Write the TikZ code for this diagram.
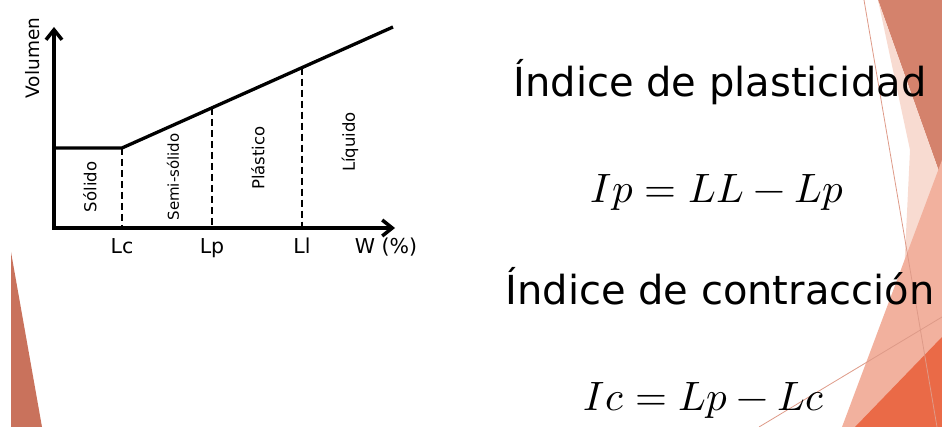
\documentclass[tikz,border=0pt]{standalone}
\usepackage{fontspec}
\usepackage{unicode-math}
\setmainfont{DejaVu Sans}
\setmathfont{Latin Modern Math}
\usetikzlibrary{arrows.meta}
\definecolor{facetdark}{HTML}{D4826C}
\definecolor{facetpink}{HTML}{F8DBD1}
\definecolor{facetsalmon}{HTML}{F2B19E}
\definecolor{facetorange}{HTML}{EA6A47}
\definecolor{facetleft}{HTML}{C9725C}
\definecolor{facetline}{HTML}{DE9A88}
\tikzset{
  axisline/.style={line width=3.5pt,line join=miter,
    {Straight Barb[length=10pt,width=16pt]}-{Straight Barb[length=10pt,width=16pt]}},
  curveline/.style={line width=3.3pt,line join=round},
  limitline/.style={line width=1.9pt,dash pattern=on 7pt off 4pt},
  ticklbl/.style={anchor=base,inner sep=0pt,font=\fontsize{20.5}{24}\selectfont},
  zonelbl/.style={rotate=90,inner sep=0pt,font=\fontsize{16.5}{20}\selectfont},
  titletxt/.style={anchor=base,inner sep=0pt,font=\fontsize{40}{48}\selectfont},
  formula/.style={anchor=base,inner sep=0pt,font=\fontsize{41}{49}\selectfont},
}

\begin{document}
\begin{tikzpicture}[x=1pt,y=-1pt]
  \useasboundingbox (0,0) rectangle (942,427);
  % Slide decoration, right edge
  \fill[facetdark] (878,0) -- (942,0) -- (942,180) -- cycle;
  \fill[facetpink] (878,0) -- (942,180) -- (942,190) -- (904,275) -- (910,150) -- cycle;
  \fill[facetsalmon] (942,160) -- (942,427) -- (842,427) -- cycle;
  \fill[facetorange] (942,337) -- (942,427) -- (855,427) -- cycle;
  \draw[facetline,line width=0.8pt] (864,0) -- (937,427);
  \draw[facetline,line width=0.8pt] (759,427) -- (942,317);
  % Slide decoration, left edge
  \fill[facetleft] (11,252) -- (42,427) -- (11,427) -- cycle;

  % Volume against water content
  \coordinate (O) at (54,228);
  \coordinate (ytip) at (54,27);
  \coordinate (xtip) at (395,228);
  \coordinate (s0) at (54,148);
  \coordinate (lcpt) at (122,148);
  \coordinate (lppt) at (212,107.8);
  \coordinate (llpt) at (302,67.7);
  \coordinate (vend) at (393,27);
  \draw[axisline] (ytip) -- (O) -- (xtip);
  \draw[curveline] (s0) -- (lcpt) -- (vend);
  \draw[limitline] (lcpt) -- (lcpt |- O);
  \draw[limitline] (lppt) -- (lppt |- O);
  \draw[limitline] (llpt) -- (llpt |- O);
  % Limits on the W axis
  \node[ticklbl] (lc) at (122,254) {Lc};
  \node[ticklbl] (lp) at (212,254) {Lp};
  \node[ticklbl] (ll) at (302,254) {Ll};
  \node[ticklbl] (wlbl) at (386,254) {W (\%)};
  \node[zonelbl,font=\fontsize{18.5}{22}\selectfont] (vol) at (33,58) {Volumen};
  % States
  \node[zonelbl] (solido) at (90,187) {Sólido};
  \node[zonelbl,font=\fontsize{15}{18}\selectfont] (semi) at (173,177) {Semi-sólido};
  \node[zonelbl] (plast) at (258,158) {Plástico};
  \node[zonelbl] (liq) at (350,142) {Líquido};

  % Indices
  \node[titletxt] (tplas) at (720,97) {Índice de plasticidad};
  \node[formula] (fplas) at (717,203) {$Ip = LL - Lp$};
  \node[titletxt] (tcont) at (720,305) {Índice de contracción};
  \node[formula] (fcont) at (704,410) {$Ic = Lp - Lc$};
\end{tikzpicture}
\end{document}
